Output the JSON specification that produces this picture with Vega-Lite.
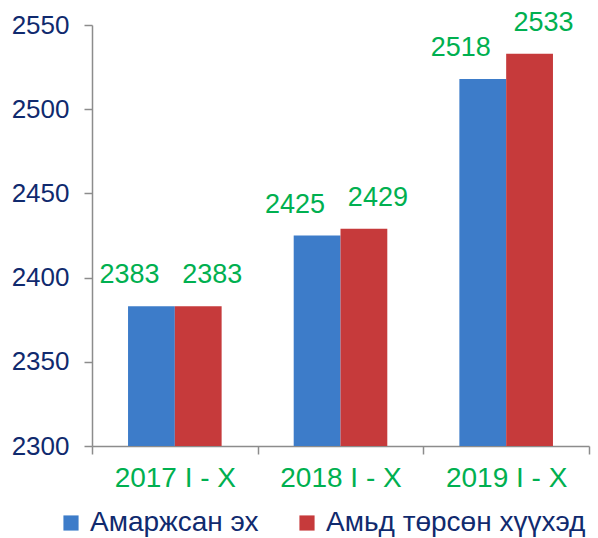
{
  "$schema": "https://vega.github.io/schema/vega-lite/v6.json",
  "autosize": {"type": "none"},
  "width": 497,
  "height": 421,
  "padding": {"left": 92, "top": 25, "right": 9, "bottom": 92},
  "background": "white",
  "config": {
    "font": "Liberation Sans",
    "view": {"stroke": null}
  },
  "data": {
    "values": [
      {"period": "2017 I - X", "series": "Амаржсан эх", "value": 2383},
      {"period": "2017 I - X", "series": "Амьд төрсөн хүүхэд", "value": 2383},
      {"period": "2018 I - X", "series": "Амаржсан эх", "value": 2425},
      {"period": "2018 I - X", "series": "Амьд төрсөн хүүхэд", "value": 2429},
      {"period": "2019 I - X", "series": "Амаржсан эх", "value": 2518},
      {"period": "2019 I - X", "series": "Амьд төрсөн хүүхэд", "value": 2533}
    ]
  },
  "encoding": {
    "x": {
      "field": "period", "type": "nominal",
      "scale": {"paddingInner": 0, "paddingOuter": 0},
      "axis": {
        "title": null, "labelAngle": 0, "labelFontSize": 28, "labelColor": "#00b050",
        "labelPadding": 10, "tickBand": "extent", "tickSize": 8, "tickColor": "#8c8c8c",
        "tickWidth": 1.5, "domainColor": "#8c8c8c", "domainWidth": 1.5, "grid": false
      }
    },
    "xOffset": {
      "field": "series", "type": "nominal",
      "scale": {"paddingInner": 0, "paddingOuter": 0.77}
    },
    "y": {
      "field": "value", "type": "quantitative",
      "scale": {"domain": [2300, 2550], "zero": false, "nice": false},
      "axis": {
        "title": null, "values": [2300, 2350, 2400, 2450, 2500, 2550], "format": "d",
        "labelFontSize": 26, "labelColor": "#102a6e", "labelPadding": 15,
        "tickSize": 8, "tickColor": "#8c8c8c", "tickWidth": 1.5,
        "domainColor": "#8c8c8c", "domainWidth": 1.5, "grid": false
      }
    }
  },
  "layer": [
    {
      "mark": {"type": "bar", "stroke": null},
      "encoding": {
        "y2": {"datum": 2300},
        "color": {
          "field": "series", "type": "nominal",
          "scale": {"domain": ["Амаржсан эх", "Амьд төрсөн хүүхэд"], "range": ["#3d7cc9", "#c63a3b"]},
          "legend": {
            "title": null, "orient": "none", "legendX": -35, "legendY": 484,
            "direction": "horizontal", "symbolType": "square", "symbolSize": 230,
            "symbolStrokeWidth": 0, "labelFontSize": 28, "labelColor": "#102a6e",
            "labelOffset": 5, "columnPadding": 34, "labelLimit": 400
          }
        }
      }
    },
    {
      "transform": [{"filter": "datum.series == 'Амаржсан эх'"}],
      "mark": {"type": "text", "fontSize": 27, "color": "#00b050", "baseline": "alphabetic", "dy": -23, "dx": -22},
      "encoding": {"text": {"field": "value", "type": "quantitative"}}
    },
    {
      "transform": [{"filter": "datum.series == 'Амьд төрсөн хүүхэд'"}],
      "mark": {"type": "text", "fontSize": 27, "color": "#00b050", "baseline": "alphabetic", "dy": -23, "dx": 14},
      "encoding": {"text": {"field": "value", "type": "quantitative"}}
    }
  ]
}
